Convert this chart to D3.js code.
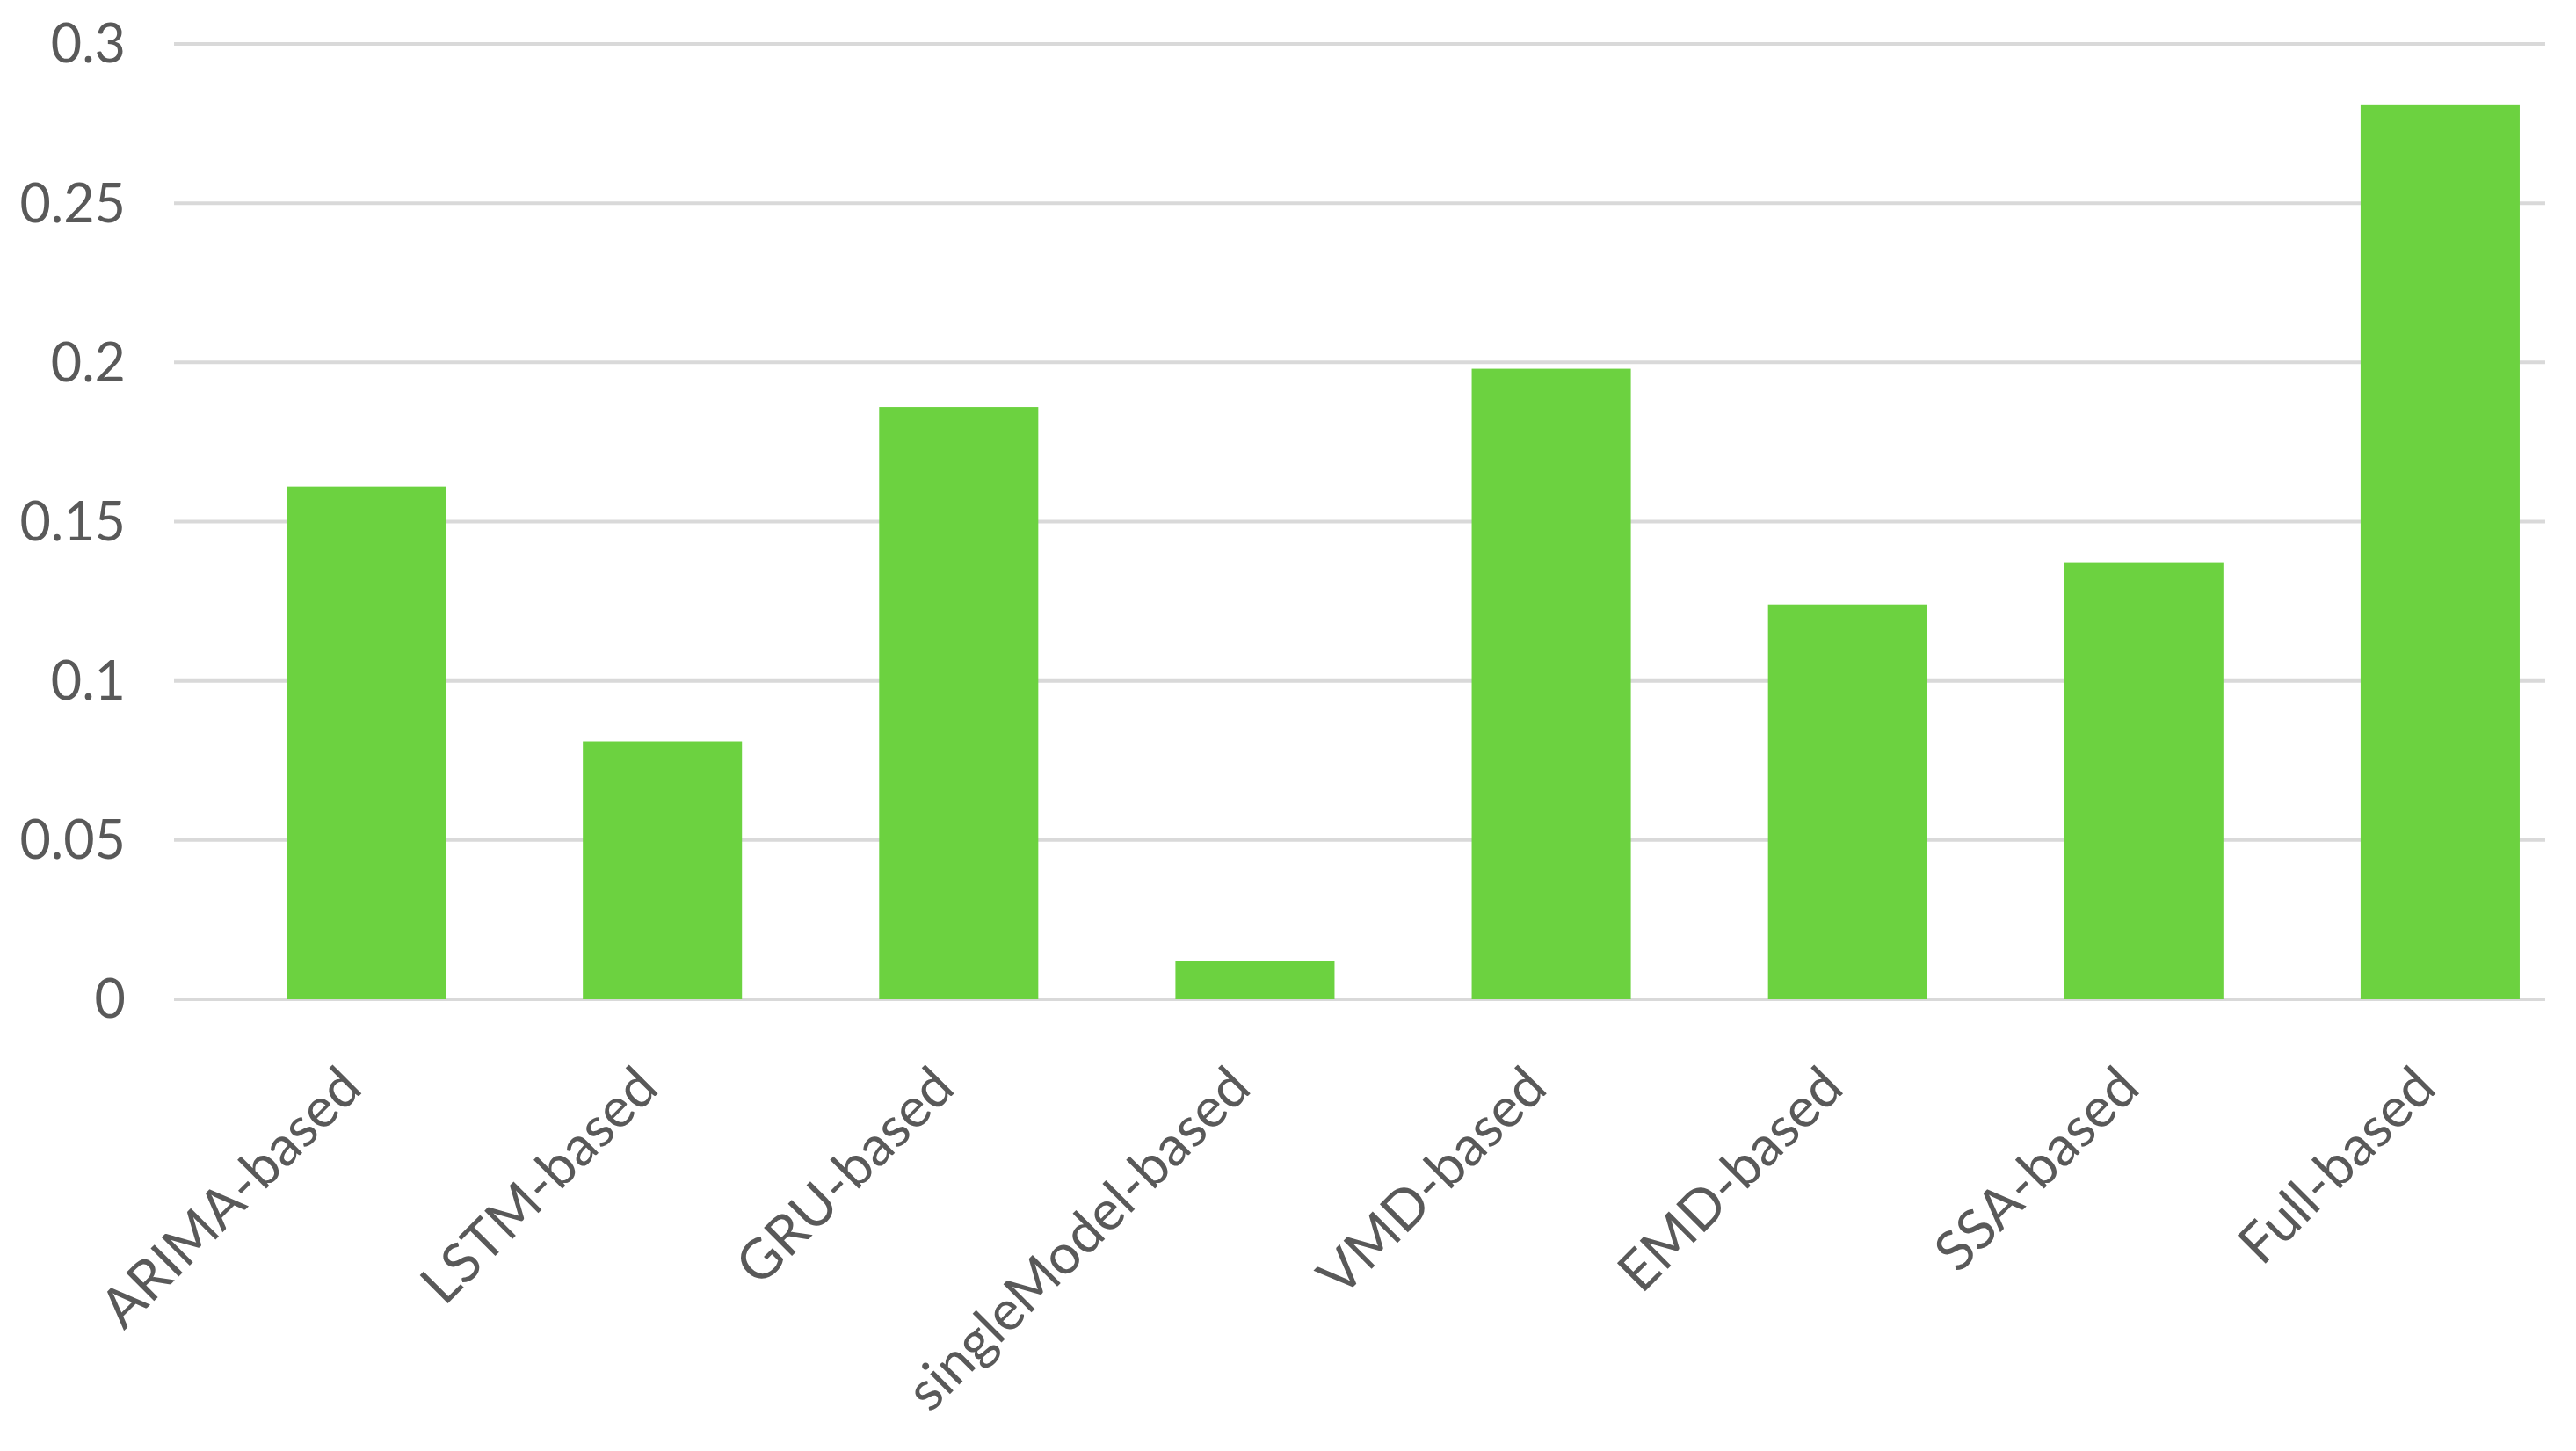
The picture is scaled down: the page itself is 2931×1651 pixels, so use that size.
<!DOCTYPE html>
<html>
<head>
<meta charset="utf-8">
<script src="https://cdn.jsdelivr.net/npm/d3@7"></script>
<style>
  html, body { margin: 0; padding: 0; background: #fff; }
  svg { display: block; }
</style>
</head>
<body>
<div id="chart"></div>
<script>
// data
var categories = ["ARIMA-based", "LSTM-based", "GRU-based", "singleModel-based",
                  "VMD-based", "EMD-based", "SSA-based", "Full-based"];
var values = [0.161, 0.081, 0.186, 0.012, 0.198, 0.124, 0.137, 0.281];
var yTicks = [0, 0.05, 0.1, 0.15, 0.2, 0.25, 0.3];
var yTickLabels = ["0", "0.05", "0.1", "0.15", "0.2", "0.25", "0.3"];

var W = 2931, H = 1651;
var gridLeft = 198, gridRight = 2896;
var y0 = 1137, yTop = 50;
var fontFam = "Lato, 'Open Sans', sans-serif";

var svg = d3.select("#chart")
    .append("svg")
    .attr("width", W)
    .attr("height", H);

var y = d3.scaleLinear()
    .domain([0, 0.3])
    .range([y0, yTop]);

// bars sit a bit right of the gridline span, as in the original
var x = d3.scaleBand()
    .domain(categories)
    .range([248, 2945])
    .paddingInner(0.463)
    .paddingOuter(0.2315);

// gridlines
svg.append("g")
    .attr("class", "grid")
    .selectAll("line")
    .data(yTicks)
    .enter()
    .append("line")
    .attr("x1", gridLeft)
    .attr("x2", gridRight)
    .attr("y1", function (d) { return y(d) })
    .attr("y2", function (d) { return y(d) })
    .attr("stroke", "#d9d9d9")
    .attr("stroke-width", 4);

// y tick labels
svg.append("g")
    .selectAll("text")
    .data(yTicks)
    .enter()
    .append("text")
    .attr("x", 143)
    .attr("y", function (d) { return y(d) })
    .attr("dy", "0.35em")
    .attr("text-anchor", "end")
    .style("font-family", fontFam)
    .style("font-size", "61px")
    .style("fill", "#595959")
    .text(function (d, i) { return yTickLabels[i] });

// bars
svg.append("g")
    .selectAll("rect")
    .data(values)
    .enter()
    .append("rect")
    .attr("x", function (d, i) { return x(categories[i]) })
    .attr("width", x.bandwidth())
    .attr("y", function (d) { return y(d) })
    .attr("height", function (d) { return y0 - y(d) })
    .attr("fill", "#6cd240");

// rotated category labels
svg.append("g")
    .selectAll("text")
    .data(categories)
    .enter()
    .append("text")
    .attr("transform", function (d) {
        var cx = x(d) + x.bandwidth() / 2 - 2;
        return "translate(" + cx + "," + (y0 + 104) + ") rotate(-45)";
    })
    .attr("text-anchor", "end")
    .style("font-family", fontFam)
    .style("font-size", "63px")
    .style("fill", "#595959")
    .text(function (d) { return d });
</script>
</body>
</html>
